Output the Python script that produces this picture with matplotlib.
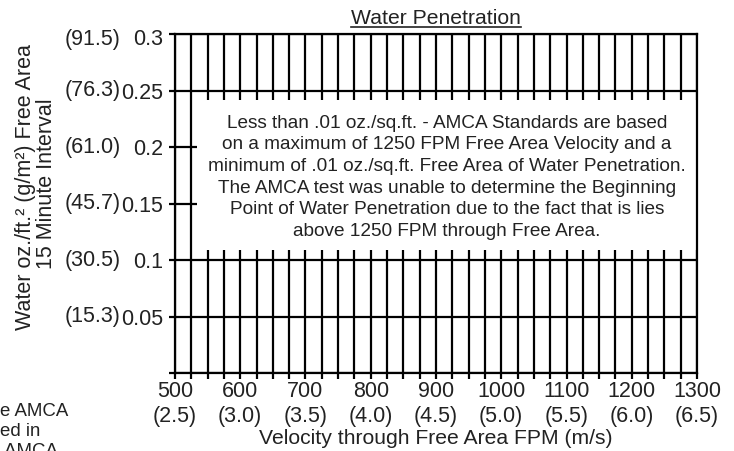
import numpy as np
import matplotlib.pyplot as plt
from matplotlib.patches import Rectangle
from matplotlib.lines import Line2D

plt.rcParams['font.family'] = ['Liberation Sans', 'DejaVu Sans']

# --- chart values --- #
fpm_ticks = [500, 600, 700, 800, 900, 1000, 1100, 1200, 1300]
ms_labels = ['(2.5)', '(3.0)', '(3.5)', '(4.0)', '(4.5)', '(5.0)', '(5.5)', '(6.0)', '(6.5)']
fpm_minor = np.arange(500, 1301, 25)
water_ticks = [0, 0.05, 0.1, 0.15, 0.2, 0.25, 0.3]
water_labels = ['', '0.05', '0.1', '0.15', '0.2', '0.25', '0.3']
metric_labels = ['', '(15.3)', '(30.5)', '(45.7)', '(61.0)', '(76.3)', '(91.5)']

note = ("Less than .01 oz./sq.ft. - AMCA Standards are based\n"
        "on a maximum of 1250 FPM Free Area Velocity and a\n"
        "minimum of .01 oz./sq.ft. Free Area of Water Penetration.\n"
        "The AMCA test was unable to determine the Beginning\n"
        "Point of Water Penetration due to the fact that is lies\n"
        "above 1250 FPM through Free Area.")

lw = 1.6
txt = '#222222'
fs = 15.5

fig = plt.figure(figsize=(7.34, 4.51), dpi=100)
ax = fig.add_axes([0.2384, 0.1729, 0.7112, 0.7517])
ax.set_xlim(500, 1300)
ax.set_ylim(0, 0.3)

ax.set_xticks(fpm_ticks)
ax.set_xticklabels([f'{v}\n{m}' for v, m in zip(fpm_ticks, ms_labels)],
                   fontsize=fs, color=txt, linespacing=1.22)
ax.set_xticks(fpm_minor, minor=True)
ax.set_yticks(water_ticks)
# top label sits a little below its line, so it is drawn by hand below
ax.set_yticklabels(water_labels[:-1] + [''], fontsize=fs, color=txt)

ax.tick_params(axis='both', which='both', direction='out', length=4.5,
               width=lw, color='black')
ax.tick_params(axis='y', pad=4)
ax.tick_params(axis='x', pad=1.5)

ax.grid(True, which='both', color='black', linewidth=lw, zorder=1)
ax.set_axisbelow(True)
for s in ax.spines.values():
    s.set_linewidth(lw)
    s.set_zorder(5)

# metric y labels (and the shifted top one)
ytr = ax.get_yaxis_transform()
for y, lab in zip(water_ticks, metric_labels):
    yy = y - 0.0053 if y == water_ticks[-1] else y
    ax.text(-0.2107, yy, lab, transform=ytr, ha='left',
            va='center', fontsize=fs, color=txt, clip_on=False)
ax.text(-0.023, water_ticks[-1] - 0.0053, water_labels[-1], transform=ytr,
        ha='right', va='center', fontsize=fs, color=txt, clip_on=False)

# white note box
ax.add_patch(Rectangle((533.7, 0.109), 800, 0.1325, facecolor='white',
                       edgecolor='none', zorder=3))
ax.text(917, 0.1732, note, ha='center', va='center', fontsize=13.7,
        color=txt, linespacing=1.355, zorder=4)

ax.set_xlabel('Velocity through Free Area FPM (m/s)', fontsize=15.2, color=txt,
              labelpad=1.5)
fig.text(26 / 734, 1 - 187 / 451, 'Water oz./ft.² (g/m²) Free Area',
         rotation=90, ha='center', va='center', fontsize=fs, color=txt)
fig.text(47 / 734, 1 - 184 / 451, '15 Minute Interval',
         rotation=90, ha='center', va='center', fontsize=fs, color=txt)

title = ax.set_title('Water Penetration', fontsize=15.2, color=txt, pad=7)

# cut-off neighbouring text at lower left
for y, s in zip([412, 432, 451], ['e AMCA', 'ed in', ' AMCA']):
    fig.text(0.0, 1 - y / 451, s, ha='left', va='center', fontsize=13.4,
             color=txt)

# underline the title
fig.canvas.draw()
bb = title.get_window_extent().transformed(fig.transFigure.inverted())
fig.add_artist(Line2D([bb.x0, bb.x1], [bb.y0 + 0.002, bb.y0 + 0.002],
                      color=txt, linewidth=1.2, transform=fig.transFigure))

fig.savefig('out.png', dpi=100)
